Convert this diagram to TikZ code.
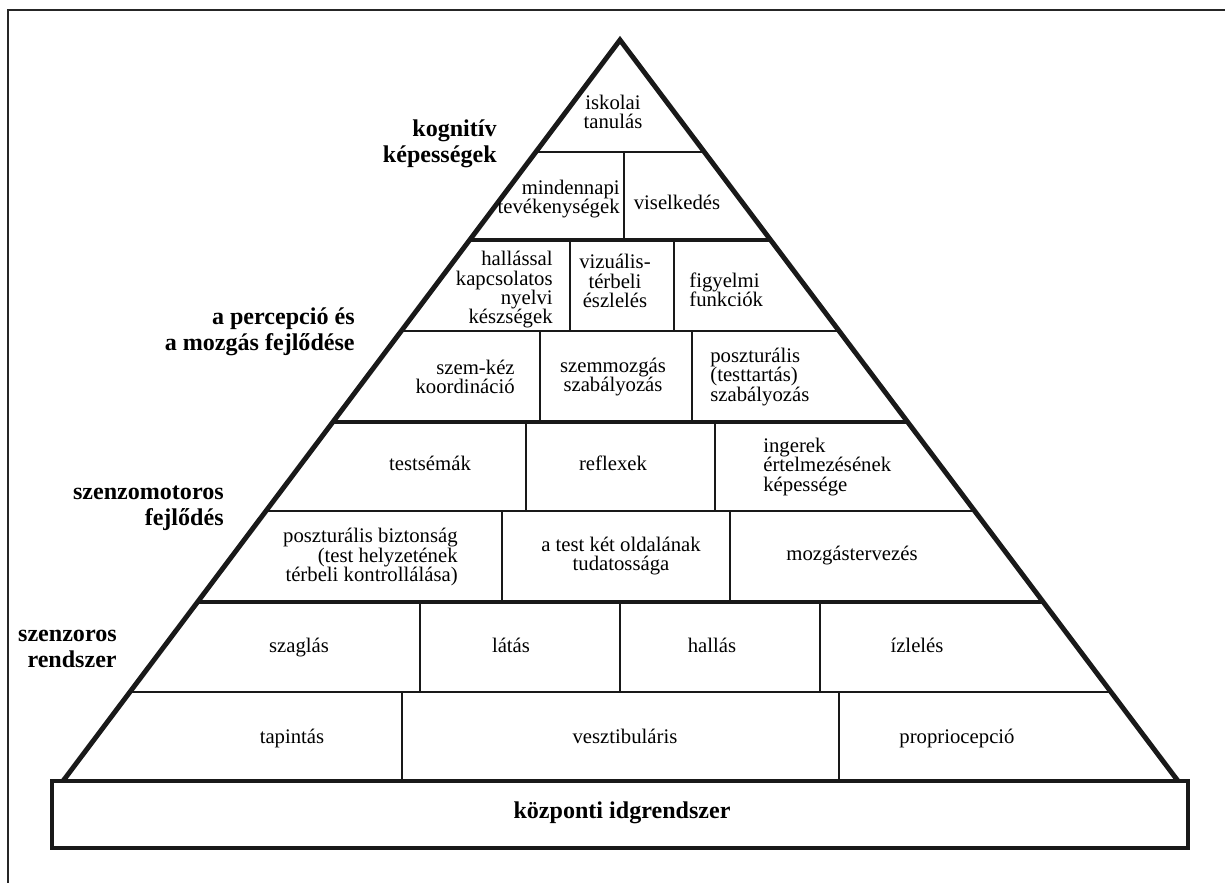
\documentclass[tikz,border=0pt]{standalone}
\usepackage{fontspec}
\setmainfont{Liberation Serif}
\usetikzlibrary{calc}

\begin{document}
\begin{tikzpicture}[
	x=0.02cm,
	y=-0.02cm,
	frame/.style={
		line width=1.6pt,
		black!85,
	},
	edge/.style={
		line width=2.8pt,
		black!90,
	},
	thickrow/.style={
		line width=2.4pt,
		black!90,
	},
	thinrow/.style={
		line width=1.1pt,
		black!90,
	},
	cell/.style={
		inner sep=0pt,
		font=\fontsize{11.8}{11}\selectfont,
	},
	level/.style={
		inner sep=0pt,
		align=right,
		font=\fontsize{13.7}{14.8}\selectfont\bfseries,
	},
]
\useasboundingbox (0,0) rectangle (1225,883);

% frame of the page
\draw[frame] (8,883) -- (8,10) -- (1225,10);

% pyramid corners
\coordinate (apex) at (620,40);
\coordinate (bl) at (63,781);
\coordinate (br) at (1178,781);

% points of the rows on both sides
\foreach \y/\n in {152/a,240/b,331/c,422/d,511/e,602/f,692/g}{
	\coordinate (L\n) at ($(apex)!{(\y-40)/741}!(bl)$);
	\coordinate (R\n) at ($(apex)!{(\y-40)/741}!(br)$);
}
\foreach \n in {a,c,e,g}
	\draw[thinrow] (L\n) -- (R\n);
\foreach \n in {b,d,f}
	\draw[thickrow] (L\n) -- (R\n);

% cell walls
\foreach \x/\ya/\yb in {624/152/240, 570/240/331, 674/240/331,
	540/331/422, 692/331/422, 526/422/511, 715/422/511,
	502/511/602, 730/511/602, 420/602/692, 620/602/692, 820/602/692,
	402/692/781, 839/692/781}
	\draw[thinrow] (\x,\ya) -- (\x,\yb);

% base block
\draw[thickrow, line width=2.6pt] (52,781) rectangle (1188,848);
\draw[edge] (bl) -- (apex) -- (br);

% cells
\node[cell, align=center] (iskolai) at (613,112) {iskolai\\tanulás};
\node[cell, align=right, anchor=east] (mindennapi) at (620,199) {mindennapi\\tevékenységek};
\node[cell, anchor=base] (viselkedes) at (677,209) {viselkedés};
\node[cell, align=right, anchor=east] (hallassal) at (553,290) {hallással\\kapcsolatos\\nyelvi\\készségek};
\node[cell, align=center] (vizualis) at (615,281) {vizuális-\\térbeli\\észlelés};
\node[cell, align=left, anchor=west] (figyelmi) at (689,290) {figyelmi\\funkciók};
\node[cell, align=right, anchor=east] (szemkez) at (515,377) {szem-kéz\\koordináció};
\node[cell, align=center] (szemmozgas) at (613,377) {szemmozgás\\szabályozás};
\node[cell, align=left, anchor=west] (poszturalis) at (710,377) {poszturális\\(testtartás)\\szabályozás};
\node[cell, anchor=base] (testsemak) at (430,470) {testsémák};
\node[cell, anchor=base] (reflexek) at (613,470) {reflexek};
\node[cell, align=left, anchor=west] (ingerek) at (763,467) {ingerek\\értelmezésének\\képessége};
\node[cell, align=right, anchor=east] (biztonsag) at (458,557) {poszturális biztonság\\(test helyzetének\\térbeli kontrollálása)};
\node[cell, align=center] (oldalanak) at (621,556) {a test két oldalának\\tudatossága};
\node[cell, anchor=base] (mozgasterv) at (852,560) {mozgástervezés};
\node[cell, anchor=base] (szaglas) at (299,652) {szaglás};
\node[cell, anchor=base] (latas) at (511,652) {látás};
\node[cell, anchor=base] (hallas) at (712,652) {hallás};
\node[cell, anchor=base] (izleles) at (917,652) {ízlelés};
\node[cell, anchor=base] (tapintas) at (292,743) {tapintás};
\node[cell, anchor=base] (vesztib) at (625,743) {vesztibuláris};
\node[cell, anchor=base] (proprio) at (957,743) {propriocepció};
\node[level, anchor=base] (kozponti) at (622,818) {központi idgrendszer};

% levels on the left
\node[level, anchor=east] (kognitiv) at (497,144) {kognitív\\képességek};
\node[level, anchor=east] (percepcio) at (355,332) {a percepció és\\a mozgás fejlődése};
\node[level, anchor=east] (szenzomot) at (224,508) {szenzomotoros\\fejlődés};
\node[level, anchor=east] (szenzoros) at (117,649) {szenzoros\\rendszer};
\end{tikzpicture}
\end{document}
